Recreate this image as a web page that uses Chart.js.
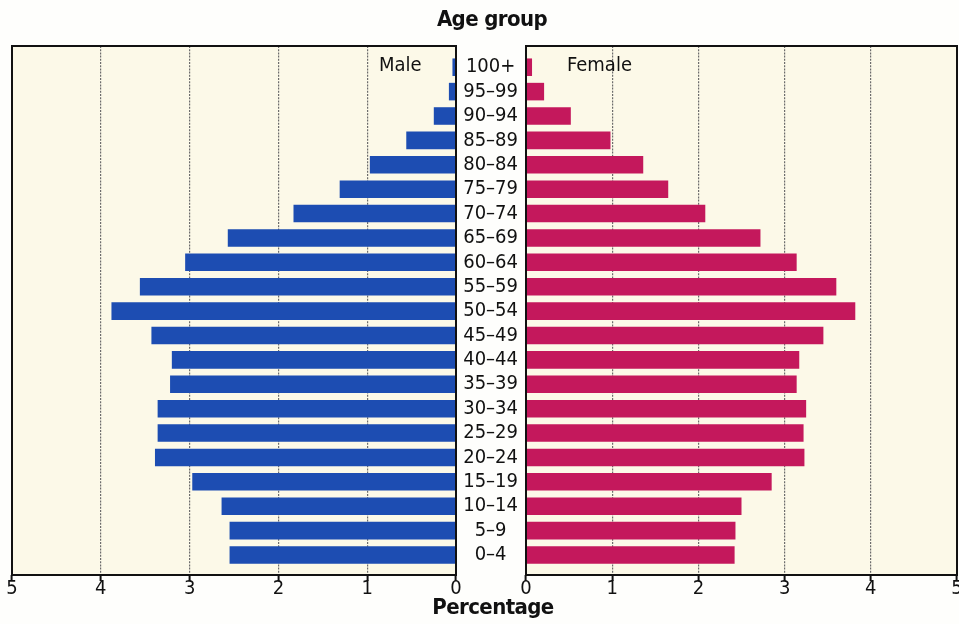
<!DOCTYPE html>
<html>
<head>
<meta charset="utf-8">
<script src="https://cdn.jsdelivr.net/npm/chart.js@4/dist/chart.umd.min.js"></script>
<style>
  body { margin: 0; width: 959px; height: 624px; overflow: hidden; background: #fefefc; position: relative;
         font-family: "Liberation Sans Narrow", "DejaVu Sans Condensed", "Arial Narrow", sans-serif; color: #111; }
  #leftBox { position: absolute; left: 0; top: 0; width: 462px; height: 624px; }
  #rightBox { position: absolute; left: 456px; top: 0; width: 520px; height: 624px; }
  .txt { position: absolute; white-space: nowrap; }
  .bold { font-weight: bold; font-size: 22px; letter-spacing: -0.6px; transform: translateX(-50%); }
  .side { font-size: 20px; }
</style>
</head>
<body>
<div id="leftBox"><canvas id="maleChart"></canvas></div>
<div id="rightBox"><canvas id="femaleChart"></canvas></div>
<div class="txt bold" style="left:492px; top:6px;">Age group</div>
<div class="txt bold" style="left:493px; top:594px;">Percentage</div>
<div class="txt side" style="left:379px; top:52px;">Male</div>
<div class="txt side" style="left:567px; top:52px;">Female</div>
<script>
// ===============================
// DATA (bottom to top)
// ===============================
const ageGroups = ['0–4', '5–9', '10–14', '15–19', '20–24', '25–29', '30–34', '35–39', '40–44', '45–49',
  '50–54', '55–59', '60–64', '65–69', '70–74', '75–79', '80–84', '85–89', '90–94', '95–99', '100+'];
const male = [2.55, 2.55, 2.64, 2.97, 3.39, 3.36, 3.36, 3.22, 3.2, 3.43,
  3.88, 3.56, 3.05, 2.57, 1.83, 1.31, 0.97, 0.56, 0.25, 0.08, 0.04];
const female = [2.42, 2.43, 2.5, 2.85, 3.23, 3.22, 3.25, 3.14, 3.17, 3.45,
  3.82, 3.6, 3.14, 2.72, 2.08, 1.65, 1.36, 0.98, 0.52, 0.21, 0.07];
const percentTicks = [0, 1, 2, 3, 4, 5];

const FONT = '"Liberation Sans Narrow", "DejaVu Sans Condensed", "Arial Narrow", sans-serif';

// cream panel behind, black frame on top
const panelFrame = {
  id: 'panelFrame',
  beforeDatasetsDraw(chart) {
    const { ctx, chartArea: a } = chart;
    ctx.save();
    ctx.globalCompositeOperation = 'destination-over';
    ctx.fillStyle = '#fcf9e8';
    ctx.fillRect(a.left, a.top, a.right - a.left, a.bottom - a.top);
    ctx.restore();
  },
  afterDraw(chart) {
    const { ctx, chartArea: a } = chart;
    ctx.save();
    ctx.strokeStyle = '#111';
    ctx.lineWidth = 2;
    ctx.strokeRect(a.left, a.top, a.right - a.left, a.bottom - a.top);
    ctx.restore();
  }
};

function xScale(reverse) {
  return {
    type: 'linear',
    reverse: reverse,
    min: 0,
    max: 5,
    afterBuildTicks: (s) => { s.ticks = percentTicks.map(v => ({ value: v })); },
    ticks: { font: { family: FONT, size: 20 }, color: '#111', padding: -4 },
    grid: { color: '#6c6c6c', lineWidth: 1.2, tickColor: '#111', tickWidth: 2, tickLength: 6, tickBorderDash: [] },
    border: { display: false, dash: [2, 1.2] },
  };
}

function yScale(show) {
  return {
    type: 'linear',
    offset: false,
    min: -0.82,
    max: 20.87,
    display: show,
    afterBuildTicks: (s) => { s.ticks = ageGroups.map((g, i) => ({ value: i })); },
    afterFit: (s) => { s.width = show ? 70 : 0; },
    ticks: {
      callback: (v) => ageGroups[v] ?? '',
      autoSkip: false,
      font: { family: FONT, size: 20 },
      color: '#111',
      crossAlign: 'center',
      padding: 0,
    },
    grid: { display: false },
    border: { display: false },
  };
}

function pyramidSide(id, values, color, reverse, padding) {
  return new Chart(document.getElementById(id).getContext('2d'), {
    type: 'bar',
    data: {
      datasets: [{
        data: values.map((v, i) => ({ x: v, y: i })),
        backgroundColor: color,
        borderWidth: 0,
        categoryPercentage: 1,
        barPercentage: 0.72,
      }]
    },
    options: {
      indexAxis: 'y',
      responsive: true,
      maintainAspectRatio: false,
      animation: false,
      layout: { padding: padding },
      plugins: { legend: { display: false }, tooltip: { enabled: false } },
      scales: { x: xScale(reverse), y: yScale(!reverse) },
    },
    plugins: [panelFrame],
  });
}

const maleChart = pyramidSide('maleChart', male, '#1d4db2', true, { top: 46, left: 12, right: 6, bottom: 27 });
const femaleChart = pyramidSide('femaleChart', female, '#c4185c', false, { top: 46, left: 0, right: 19, bottom: 27 });
</script>
</body>
</html>
